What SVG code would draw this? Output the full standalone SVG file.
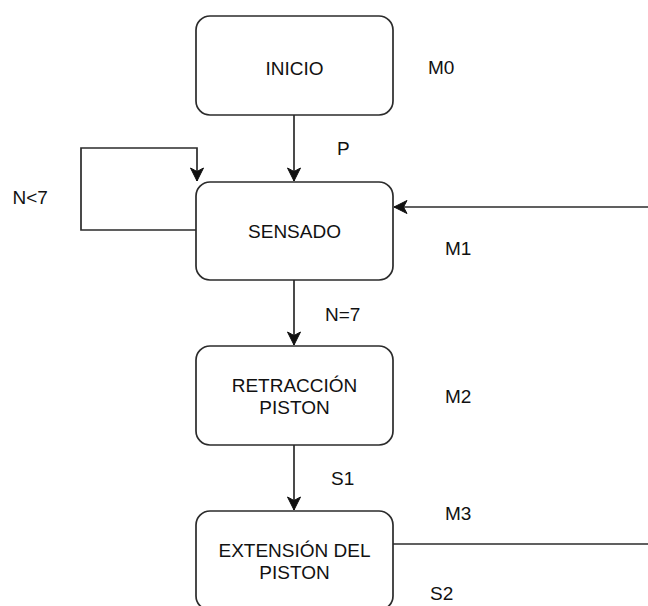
<svg xmlns="http://www.w3.org/2000/svg" width="648" height="606" viewBox="0 0 648 606">
<style>
.box{fill:#ffffff;stroke:#2b2b2b;stroke-width:1.7}
.ln{fill:none;stroke:#2b2b2b;stroke-width:1.7}
.t{font-family:"Liberation Sans",Arial,sans-serif;font-size:19px;fill:#111}
.c{text-anchor:middle}
</style>
<defs>
<marker id="arr" markerUnits="userSpaceOnUse" markerWidth="16" markerHeight="16" viewBox="0 0 16 16" refX="14" refY="8" orient="auto">
<path d="M1,1.5 L14,8 L1,14.5 L4.5,8 Z" fill="#111" stroke="#111" stroke-width="1"/>
</marker>
</defs>
<rect width="648" height="606" fill="#ffffff"/>
<g id="connectors">
<path class="ln" d="M294,115 L294,181" marker-end="url(#arr)"/>
<path class="ln" d="M196,230 L81,230 L81,148 L197,148 L197,181" marker-end="url(#arr)"/>
<path class="ln" d="M648,207 L394,207" marker-end="url(#arr)"/>
<path class="ln" d="M294,280 L294,345" marker-end="url(#arr)"/>
<path class="ln" d="M294,445 L294,510" marker-end="url(#arr)"/>
<path class="ln" d="M393,544 L648,544"/>
</g>
<g id="inicio">
<rect class="box" x="196" y="16" width="197" height="99" rx="14"/>
<text class="t c" x="294.5" y="75">INICIO</text>
</g>
<g id="sensado">
<rect class="box" x="196" y="182" width="197" height="98" rx="14"/>
<text class="t c" x="294.5" y="237.5">SENSADO</text>
</g>
<g id="retraccion">
<rect class="box" x="196" y="346" width="197" height="99" rx="14"/>
<text class="t c" x="294.5" y="392">RETRACCIÓN</text>
<text class="t c" x="294.5" y="414">PISTON</text>
</g>
<g id="extension">
<rect class="box" x="196" y="511" width="197" height="99" rx="14"/>
<text class="t c" x="294.5" y="557">EXTENSIÓN DEL</text>
<text class="t c" x="294.5" y="579">PISTON</text>
</g>
<g id="labels">
<text class="t" x="428" y="74">M0</text>
<text class="t" x="337" y="155">P</text>
<text class="t" x="12.5" y="204">N&lt;7</text>
<text class="t" x="445" y="255">M1</text>
<text class="t" x="325" y="320.5">N=7</text>
<text class="t" x="445" y="402.5">M2</text>
<text class="t" x="331" y="485">S1</text>
<text class="t" x="445" y="520">M3</text>
<text class="t" x="430" y="600">S2</text>
</g>
</svg>
